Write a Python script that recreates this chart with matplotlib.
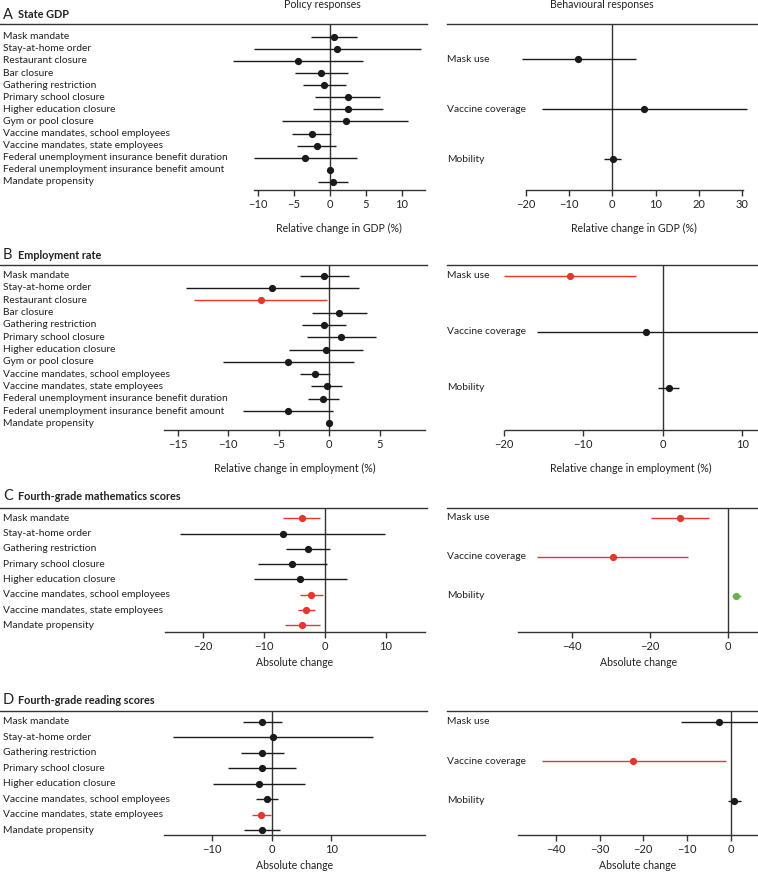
import matplotlib
matplotlib.use("Agg")
import matplotlib.pyplot as plt
from matplotlib.lines import Line2D
from matplotlib.transforms import blended_transform_factory

plt.rcParams["font.family"] = ["Lato", "DejaVu Sans"]
plt.rcParams["font.size"] = 7.4

RED = "#e8352e"
GREEN = "#6ab04c"
BLACK = "#1a1a1a"

# ---- data -------------------------------------------------------------
policy_all = ["Mask mandate", "Stay-at-home order", "Restaurant closure", "Bar closure",
              "Gathering restriction", "Primary school closure", "Higher education closure",
              "Gym or pool closure", "Vaccine mandates, school employees",
              "Vaccine mandates, state employees",
              "Federal unemployment insurance benefit duration",
              "Federal unemployment insurance benefit amount", "Mandate propensity"]
policy_school = ["Mask mandate", "Stay-at-home order", "Gathering restriction",
                 "Primary school closure", "Higher education closure",
                 "Vaccine mandates, school employees", "Vaccine mandates, state employees",
                 "Mandate propensity"]
behaviour = ["Mask use", "Vaccine coverage", "Mobility"]

# A: State GDP
gdp_pol_est = [0.6, 1.0, -4.4, -1.2, -0.8, 2.45, 2.45, 2.2, -2.5, -1.85, -3.5, 0.0, 0.35]
gdp_pol_lo = [-2.6, -10.6, -13.5, -4.8, -3.7, -2.1, -2.4, -6.6, -5.3, -4.6, -10.6, -0.2, -1.6]
gdp_pol_hi = [3.8, 12.7, 4.6, 2.45, 2.2, 6.9, 7.3, 10.8, 0.2, 0.9, 3.7, 0.2, 2.45]
gdp_pol_col = ["k"] * 13
gdp_beh_est = [-7.8, 7.4, 0.15]
gdp_beh_lo = [-20.9, -16.2, -2.0]
gdp_beh_hi = [5.4, 31.0, 2.0]
gdp_beh_col = ["k", "k", "k"]

# B: Employment rate
emp_pol_est = [-0.55, -5.7, -6.8, 0.95, -0.5, 1.15, -0.35, -4.05, -1.4, -0.25, -0.6, -4.1, 0.0]
emp_pol_lo = [-2.9, -14.2, -13.4, -1.75, -2.7, -2.2, -4.0, -10.5, -2.9, -1.8, -2.1, -8.5, -0.1]
emp_pol_hi = [1.9, 2.9, -0.2, 3.7, 1.7, 4.6, 3.35, 2.4, 0.1, 1.25, 1.0, 0.35, 0.1]
emp_pol_col = ["k", "k", "r", "k", "k", "k", "k", "k", "k", "k", "k", "k", "k"]
emp_beh_est = [-11.7, -2.1, 0.75]
emp_beh_lo = [-20.0, -15.8, -0.55]
emp_beh_hi = [-3.4, 13.0, 2.05]
emp_beh_col = ["r", "k", "k"]

# C: Fourth-grade mathematics scores
math_pol_est = [-3.8, -6.9, -2.8, -5.4, -4.1, -2.25, -3.1, -3.7]
math_pol_lo = [-6.9, -23.8, -6.4, -11.0, -11.7, -4.1, -4.5, -6.6]
math_pol_hi = [-0.8, 9.8, 0.8, 0.3, 3.55, -0.4, -1.6, -0.8]
math_pol_col = ["r", "k", "k", "k", "k", "r", "r", "r"]
math_beh_est = [-12.2, -29.5, 2.1]
math_beh_lo = [-19.7, -48.8, 1.0]
math_beh_hi = [-4.7, -10.1, 3.3]
math_beh_col = ["r", "r", "g"]

# D: Fourth-grade reading scores
read_pol_est = [-1.55, 0.3, -1.55, -1.7, -2.05, -0.75, -1.85, -1.55]
read_pol_lo = [-4.85, -16.5, -5.2, -7.3, -9.8, -2.7, -3.35, -4.6]
read_pol_hi = [1.7, 16.9, 2.05, 4.0, 5.5, 1.1, -0.15, 1.4]
read_pol_col = ["k", "k", "k", "k", "k", "k", "r", "k"]
read_beh_est = [-2.7, -22.3, 0.75]
read_beh_lo = [-11.3, -43.2, -0.6]
read_beh_hi = [7.0, -1.2, 2.2]
read_beh_col = ["k", "r", "k"]

COLORS = {"k": BLACK, "r": RED, "g": GREEN}

# ---- layout (pixels) ----------------------------------------------------
W, H = 758, 873
fig = plt.figure(figsize=(W / 100, H / 100), dpi=100)


def fx(px):
    return px / W


def fy(py):
    return 1 - py / H


def forest(labels, est, lo, hi, cols, x_px, top, bot, y0, step, xlim, spine, ticks,
           xlabel, label_x):
    ax = fig.add_axes([fx(x_px[0]), fy(bot), fx(x_px[1] - x_px[0]), (bot - top) / H])
    n = len(labels)
    ys = list(range(n))
    for y, e, l, h, c in zip(ys, est, lo, hi, cols):
        ax.plot([l, h], [y, y], color=COLORS[c], lw=1.0, solid_capstyle="butt", zorder=3)
        ax.plot(e, y, "o", color=COLORS[c], ms=4.2, zorder=4)
    ax.axvline(0, color="#333333", lw=1.0, zorder=2)
    ax.set_xlim(*xlim)
    ax.set_ylim((bot - y0) / step, (top - y0) / step)
    for s in ["top", "left", "right"]:
        ax.spines[s].set_visible(False)
    ax.spines["bottom"].set_bounds(*spine)
    ax.spines["bottom"].set_color("#333333")
    ax.spines["bottom"].set_linewidth(1.0)
    ax.set_yticks([])
    ax.set_xticks(ticks)
    ax.set_xticklabels([f"{t:g}".replace("-", "\u2212") for t in ticks])
    ax.tick_params(axis="x", direction="out", length=4, width=1.0, color="#333333",
                   pad=2.5, labelsize=8, labelcolor="#222222")
    ax.set_xlabel(xlabel, fontsize=7.6, labelpad=6, color="#222222")
    # center the x label on the spine
    mid = (spine[0] + spine[1]) / 2
    ax.xaxis.set_label_coords((mid - xlim[0]) / (xlim[1] - xlim[0]), -0.2)
    tr = blended_transform_factory(fig.transFigure, ax.transData)
    for y, lab in zip(ys, labels):
        ax.text(fx(label_x), y, lab, transform=tr, ha="left", va="center",
                fontsize=7.4, color="#222222")
    return ax


LEFT = (160, 427)
RIGHT = (500, 758)

panels = [
    dict(letter="A", title="State GDP", top=24, bot=190, title_y=15,
         left=(gdp_pol_est, gdp_pol_lo, gdp_pol_hi, gdp_pol_col, policy_all),
         right=(gdp_beh_est, gdp_beh_lo, gdp_beh_hi, gdp_beh_col),
         ly0=36.7, lstep=12.1, ry0=59.3, rstep=50,
         lxlim=(-23.6, 13.47), lspine=(-10.6, 13.2), lticks=[-10, -5, 0, 5, 10],
         rxlim=(-25.9, 33.6), rspine=(-20, 30.1), rticks=[-20, -10, 0, 10, 20, 30],
         xlabel="Relative change in GDP (%)"),
    dict(letter="B", title="Employment rate", top=265, bot=430, title_y=255,
         left=(emp_pol_est, emp_pol_lo, emp_pol_hi, emp_pol_col, policy_all),
         right=(emp_beh_est, emp_beh_lo, emp_beh_hi, emp_beh_col),
         ly0=275.7, lstep=12.3, ry0=276, rstep=56,
         lxlim=(-16.76, 9.67), lspine=(-16.4, 9.5), lticks=[-15, -10, -5, 0, 5],
         rxlim=(-20.47, 11.99), rspine=(-19.9, 12), rticks=[-20, -10, 0, 10],
         xlabel="Relative change in employment (%)"),
    dict(letter="C", title="Fourth-grade mathematics scores", top=507.7, bot=632.3, title_y=496,
         left=(math_pol_est, math_pol_lo, math_pol_hi, math_pol_col, policy_school),
         right=(math_beh_est, math_beh_lo, math_beh_hi, math_beh_col),
         ly0=518.3, lstep=15.3, ry0=517.7, rstep=39,
         lxlim=(-27.05, 16.72), lspine=(-26.3, 16.4), lticks=[-20, -10, 0, 10],
         rxlim=(-58.4, 7.77), rspine=(-53.7, 7.8), rticks=[-40, -20, 0],
         xlabel="Absolute change"),
    dict(letter="D", title="Fourth-grade reading scores", top=710.7, bot=835, title_y=700,
         left=(read_pol_est, read_pol_lo, read_pol_hi, read_pol_col, policy_school),
         right=(read_beh_est, read_beh_lo, read_beh_hi, read_beh_col),
         ly0=721.7, lstep=15.5, ry0=721.7, rstep=39.5,
         lxlim=(-18.7, 26.0), lspine=(-18, 25.7), lticks=[-10, 0, 10],
         rxlim=(-52.7, 6.16), rspine=(-48.6, 6.16), rticks=[-40, -30, -20, -10, 0],
         xlabel="Absolute change"),
]

for p in panels:
    e, l, h, c, labs = p["left"]
    forest(labs, e, l, h, c, LEFT, p["top"], p["bot"], p["ly0"], p["lstep"],
           p["lxlim"], p["lspine"], p["lticks"], p["xlabel"], 3)
    e, l, h, c = p["right"]
    forest(behaviour, e, l, h, c, RIGHT, p["top"], p["bot"], p["ry0"], p["rstep"],
           p["rxlim"], p["rspine"], p["rticks"], p["xlabel"], 447)
    # top rules across label + plot area
    fig.add_artist(Line2D([0, fx(427)], [fy(p["top"])] * 2, color="#333333", lw=1.0))
    fig.add_artist(Line2D([fx(447), 1], [fy(p["top"])] * 2, color="#333333", lw=1.0))
    fig.text(fx(3), fy(p["title_y"]), p["letter"], fontsize=10.5, va="center", ha="left",
             color="#222222")
    fig.text(fx(18), fy(p["title_y"]), p["title"], fontsize=7.8, fontweight="bold",
             va="center", ha="left", color="#222222")

fig.text(fx(322), fy(5), "Policy responses", fontsize=7.6, ha="center", va="center",
         color="#222222")
fig.text(fx(602), fy(5), "Behavioural responses", fontsize=7.6, ha="center", va="center",
         color="#222222")

fig.savefig("out.png", dpi=100)
